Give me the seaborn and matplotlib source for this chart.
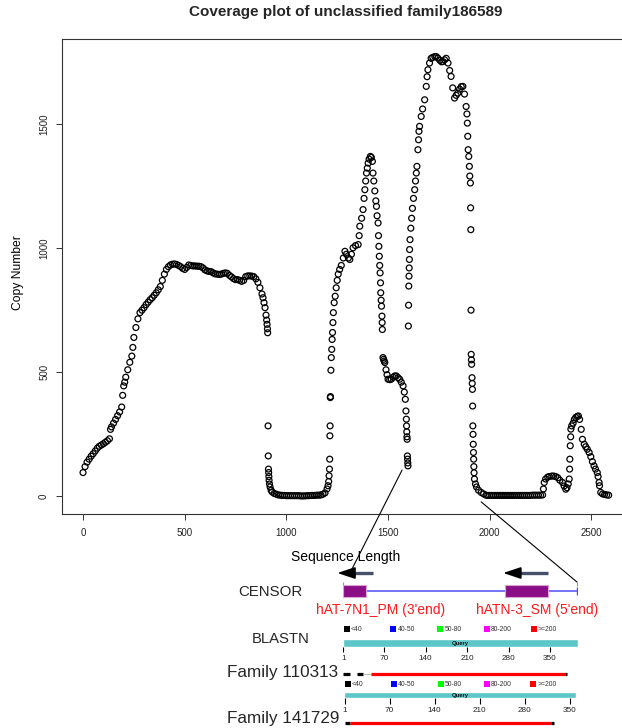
import matplotlib
matplotlib.use("Agg")
import matplotlib.pyplot as plt
import matplotlib.transforms as mtransforms
from matplotlib.patches import ConnectionPatch
import numpy as np
import pandas as pd
import seaborn as sns

# ---------------- coverage data ----------------
position = [
    0, 10, 20, 30, 40, 50, 60, 70, 80, 90, 100, 110, 120, 130,
    135, 140, 150, 160, 170, 180, 190, 195, 200, 205, 210, 220, 230, 240, 245, 250,
    260, 270, 280, 290, 300, 310, 320, 330, 340, 350, 360, 370, 380, 390, 400, 410,
    420, 430, 440, 450, 460, 470, 480, 490, 500, 510, 520, 530, 540, 550, 560, 570,
    580, 590, 600, 610, 620, 630, 640, 650, 660, 670, 680, 690, 700, 710, 720, 730,
    740, 750, 760, 770, 780, 790, 800, 810, 820, 830, 840, 850, 860, 870, 880, 885,
    890, 895, 900, 903, 905, 907, 908,
    910, 911, 912, 913, 914, 915, 917, 920, 925, 930, 940, 950, 960, 970, 980, 990,
    1000, 1010, 1020, 1030, 1040, 1050, 1060, 1070, 1080, 1090, 1100, 1110, 1120,
    1130, 1140, 1150, 1160, 1170, 1180, 1190, 1200, 1205, 1208, 1210, 1212, 1213,
    1214, 1215, 1216, 1217, 1219, 1221, 1223, 1225, 1227, 1229, 1231, 1235, 1240,
    1245, 1250, 1255, 1262, 1270, 1280, 1288, 1295, 1305, 1312, 1320, 1328, 1340,
    1353, 1358, 1361, 1370, 1377, 1382, 1386, 1390, 1394, 1398, 1402, 1407, 1413,
    1418, 1423, 1426, 1430, 1435, 1440, 1443, 1446, 1451, 1453, 1455, 1457, 1459,
    1461, 1463, 1464, 1466, 1468, 1470, 1471, 1472, 1475, 1478, 1481, 1484, 1490,
    1495, 1500, 1508, 1516, 1525, 1533, 1541, 1549, 1557, 1565, 1574, 1580, 1585,
    1588, 1590, 1591, 1592, 1593, 1594, 1595, 1596, 1597, 1598,
    1600, 1601, 1602, 1603, 1604, 1605, 1606, 1608, 1612, 1616, 1620, 1625, 1631,
    1635, 1639, 1642, 1647, 1650, 1652, 1655, 1663, 1670, 1680, 1688, 1692, 1696,
    1704, 1712, 1720, 1730, 1737, 1745, 1755, 1763, 1770, 1778, 1786, 1795, 1803,
    1810, 1818, 1827, 1835, 1843, 1852, 1860, 1868, 1876, 1884, 1888, 1890, 1892,
    1894, 1897, 1900, 1902, 1905, 1906, 1907, 1908, 1909, 1910, 1911, 1913, 1914,
    1915, 1916, 1917, 1918, 1919, 1920, 1921, 1922, 1923, 1925, 1930, 1935, 1945,
    1958, 1970, 1982, 1990, 2000, 2010, 2020, 2030, 2040, 2050, 2060, 2070, 2080,
    2090, 2100, 2110, 2120, 2130, 2140, 2150, 2160, 2170, 2180, 2190, 2200, 2210,
    2220, 2230, 2240, 2250, 2260, 2264, 2268, 2275, 2285, 2293, 2305, 2315, 2325,
    2335, 2345, 2358, 2366, 2374, 2380, 2386, 2391, 2393, 2394, 2396, 2398, 2399,
    2403, 2410, 2416, 2423, 2430, 2436, 2442, 2450, 2456, 2465, 2472, 2480, 2489,
    2497, 2505, 2513, 2520, 2529, 2533, 2538, 2540, 2546, 2555, 2565, 2575, 2585,
]
copy_number = [
    96, 120, 138, 150, 162, 172, 183, 194, 202, 207, 212, 218, 224, 232,
    270, 280, 295, 310, 325, 340, 360, 407, 445, 460, 480, 510, 540, 565, 600, 640,
    680, 715, 740, 750, 760, 772, 782, 792, 800, 810, 820, 832, 845, 870, 895, 914,
    925, 932, 935, 936, 934, 930, 925, 918, 914, 922, 932, 930, 928, 928, 927, 927,
    925, 920, 912, 908, 906, 905, 900, 896, 895, 894, 895, 898, 900, 898, 890, 884,
    877, 873, 873, 870, 866, 870, 885, 888, 888, 887, 885, 876, 862, 840, 815, 800,
    780, 760, 730, 710, 693, 675, 659,
    284, 163, 110, 96, 80, 65, 50, 38, 25, 18, 12, 9, 6, 5, 4, 4,
    3, 3, 3, 3, 3, 3, 3, 2, 2, 2, 3, 3, 4,
    4, 4, 5, 5, 6, 9, 14, 30, 43, 60, 83, 110, 150,
    244, 284, 398, 402, 508, 559, 592, 632, 660, 700, 740, 780, 806,
    840, 870, 895, 914, 930, 960, 987, 975, 960, 954, 975, 1001, 1010,
    1014, 1050, 1088, 1120, 1155, 1200, 1235, 1270, 1302, 1322, 1342, 1358, 1369,
    1365, 1349, 1302, 1270, 1230, 1190, 1168, 1130, 1101, 1050, 1007, 967, 930,
    900, 860, 820, 790, 766, 726, 700, 672, 559, 552, 545, 539, 510,
    490, 472, 470, 472, 480, 485, 485, 478, 472, 460, 445, 420, 391,
    344, 311, 284, 260, 240, 230, 163, 150, 135, 123,
    686, 770, 847, 887, 920, 954, 994, 1034, 1080, 1120, 1160, 1200, 1235,
    1270, 1302, 1329, 1396, 1436, 1470, 1490, 1530, 1560, 1597, 1651, 1690, 1718,
    1745, 1764, 1768, 1771, 1771, 1765, 1756, 1750, 1751, 1758, 1764, 1745, 1715,
    1691, 1645, 1604, 1615, 1624, 1640, 1650, 1651, 1620, 1570, 1540, 1503, 1450,
    1396, 1369, 1329, 1290, 1262, 1162, 1074, 750, 572, 550, 532, 478, 455,
    431, 364, 284, 250, 210, 177, 150, 120, 95, 70, 50, 38, 25,
    16, 10, 5, 4, 4, 4, 4, 4, 4, 4, 4, 4, 4,
    4, 4, 4, 4, 4, 4, 4, 4, 4, 4, 4, 4, 5,
    5, 5, 5, 5, 6, 30, 56, 70, 78, 80, 82, 82, 80,
    75, 65, 56, 42, 29, 35, 50, 70, 110, 150, 204, 240, 271,
    284, 295, 310, 318, 322, 324, 310, 270, 230, 210, 200, 190, 177,
    160, 140, 123, 110, 96, 80, 56, 43, 16, 10, 8, 6, 5,
]
x_ticks = [0, 500, 1000, 1500, 2000, 2500]
y_ticks = [0, 500, 1000, 1500]
title = "Coverage plot of unclassified family186589"

# links from coverage plot to CENSOR track (coverage coords -> query coords)
link_cov_pos = [1569, 1958]
link_cov_val = [106, -22]
link_query_pos = [15.7, 395.6]

# ---------------- annotation data ----------------
query1_len = 396
query2_len = 360
censor_start = [1, 274]
censor_end = [39, 347]
censor_names = ["hAT-7N1_PM (3'end)", "hATN-3_SM (5'end)"]
censor_label_pos = [64.6, 328]
arrow_tail = [51, 347]
arrow_tip = [-9, 271]

score_bins = ["<40", "40-50", "50-80", "80-200", ">=200"]
score_colors = ["#000000", "#0000FF", "#00FF00", "#FF00FF", "#FF0000"]

query1_ticks = [1, 70, 140, 210, 280, 350]
query2_ticks = [1, 70, 140, 210, 280, 350]

hit1_start = [1, 24, 35, 47, 375]
hit1_end = [13, 35, 47, 375, 378]
hit1_bin = ["<40", "<40", "gap", ">=200", "<40"]

hit2_start = [1, 9, 321]
hit2_end = [9, 321, 326]
hit2_bin = ["<40", ">=200", "<40"]

# ---------------- style ----------------
sns.set_theme(style="ticks")
plt.rcParams["font.family"] = ["Liberation Sans", "DejaVu Sans"]

W, H = 622, 728
fig = plt.figure(figsize=(W / 100, H / 100), dpi=100)


def rect(l, t, r, b):
    return [l / W, 1 - b / H, (r - l) / W, (b - t) / H]


def fxy(x, y):
    return x / W, 1 - y / H


# ---------------- main coverage plot ----------------
ax = fig.add_axes(rect(62, 39, 629.7, 514))
df = pd.DataFrame({"Sequence Length": position, "Copy Number": copy_number})
sns.scatterplot(data=df, x="Sequence Length", y="Copy Number", ax=ax,
                marker="o", s=18, linewidth=0.9, legend=False)
pts = ax.collections[0]
pts.set_facecolor("none")
pts.set_edgecolor("black")
pts.set_linewidth(0.9)

ax.set_xlim(-103.4, 2688.4)
ax.set_ylim(-70.8, 1841.8)
ax.set_xticks(x_ticks)
ax.set_yticks(y_ticks)
for sp in ax.spines.values():
    sp.set_visible(True)
    sp.set_linewidth(0.8)
    sp.set_color("#333333")
ax.grid(False)
ax.tick_params(direction="out", length=4.3, width=0.7, color="#333333",
               labelsize=7, labelcolor="#222222")
ax.tick_params(axis="x", pad=6.0)
ax.tick_params(axis="y", pad=5.0)
for t in ax.get_yticklabels():
    t.set_rotation(90)
    t.set_va("center")

ax.set_xlabel("Sequence Length", fontsize=10, color="black")
ax.xaxis.set_label_coords(0.5, (514 - 557) / 475)
ax.xaxis.label.set_va("center")
ax.set_ylabel("Copy Number", fontsize=8.7, color="black")
ax.yaxis.set_label_coords((18 - 62) / 567.7, (514 - 273) / 475)
ax.yaxis.label.set_va("center")
ax.yaxis.label.set_ha("center")

fig.text(*fxy(346, 12), title, ha="center", va="center",
         fontsize=11, fontweight="bold")

# ---------------- CENSOR track ----------------
ax_c = fig.add_axes(rect(343.0, 581, 577.5, 601))
ax_c.set_xlim(0.5, query1_len + 0.5)
ax_c.set_ylim(0, 1)
ax_c.axis("off")
ax_c.hlines(0.5, 1, query1_len, color="#4F4FF5", lw=1.1, zorder=1)
ax_c.vlines(query1_len, 0.32, 0.68, color="#4F4FF5", lw=1.0)
ax_c.vlines([1, query1_len], 0.75, 0.97, color="#33DD33", lw=0.8)
ax_c.barh(0.5, np.array(censor_end) - np.array(censor_start), left=censor_start,
          height=0.6, color="#8C0E86", edgecolor="#D8A2D4", linewidth=0.8, zorder=3)
for s_, e_ in zip(arrow_tail, arrow_tip):
    head = (s_ - e_) * 0.35
    ax_c.plot([s_, e_ + head * 0.6], [1.4, 1.4], color="#44506A", lw=2.4,
              solid_capstyle="butt", clip_on=False)
    ax_c.annotate("", xy=(e_, 1.4), xytext=(e_ + head, 1.4),
                  xycoords="data", textcoords="data",
                  arrowprops=dict(arrowstyle="-|>,head_length=0.9,head_width=0.3",
                                  color="black", lw=1.2, shrinkA=0, shrinkB=0,
                                  mutation_scale=12),
                  annotation_clip=False)
for name, xpos in zip(censor_names, censor_label_pos):
    ax_c.text(xpos, -0.45, name, color="#FF1A1A", fontsize=10,
              ha="center", va="center", clip_on=False)


# ---------------- BLASTN tracks ----------------
def blast_track(box, qlen, xmin, ticks, starts, ends, bins, legend_y, bar_y,
                bar_h, tick_y0, tick_y1, label_y, hit_y, ylim):
    a = fig.add_axes(box)
    a.set_xlim(xmin, qlen + xmin)
    a.set_ylim(ylim, 0)
    a.axis("off")
    blend = mtransforms.blended_transform_factory(a.transAxes, a.transData)
    for i, (lab, col) in enumerate(zip(score_bins, score_colors)):
        fx = i * 0.2
        a.scatter([fx + 0.015], [legend_y], marker="s", s=24, color=col,
                  transform=blend, clip_on=False, linewidths=0)
        a.text(fx + 0.032, legend_y, lab, transform=blend, fontsize=4.9,
               ha="left", va="center", color="#333333")
    a.barh(bar_y, qlen, left=xmin, height=bar_h, color="#5CC6C8")
    a.text(xmin + qlen / 2, bar_y, "Query", fontsize=4.2, fontweight="bold",
           ha="center", va="center", color="#111111")
    a.vlines(ticks, tick_y0, tick_y1, color="black", lw=0.8)
    for t in ticks:
        a.text(t, label_y, str(t), fontsize=5.9, ha="center", va="center",
               color="#222222")
    cmap = dict(zip(score_bins, score_colors))
    for s_, e_, b_ in zip(starts, ends, bins):
        if b_ == "gap":
            a.hlines(hit_y, s_, e_, color="#BBBBBB", lw=0.8)
        else:
            a.hlines(hit_y, s_, e_, color=cmap[b_], lw=2.3)
    return a


ax_b1 = blast_track(rect(343.0, 625, 577.5, 678), query1_len, 0.5, query1_ticks,
                    hit1_start, hit1_end, hit1_bin, legend_y=4.3, bar_y=18,
                    bar_h=8, tick_y0=22, tick_y1=27, label_y=33.5, hit_y=49.3,
                    ylim=53)
ax_b2 = blast_track(rect(344.4, 680, 576.4, 728), query2_len, 0.0, query2_ticks,
                    hit2_start, hit2_end, hit2_bin, legend_y=4, bar_y=15,
                    bar_h=6.5, tick_y0=18, tick_y1=24, label_y=30, hit_y=42.7,
                    ylim=48)

# ---------------- track labels ----------------
fig.text(*fxy(270, 592), "CENSOR", fontsize=10.8, ha="center", va="center")
fig.text(*fxy(281, 639), "BLASTN", fontsize=10.7, ha="center", va="center")
fig.text(*fxy(282.5, 673), "Family 110313", fontsize=12.3, ha="center", va="center")
fig.text(*fxy(283, 719), "Family 141729", fontsize=12.3, ha="center", va="center")

# ---------------- connecting lines ----------------
xb_trans = ax_c.get_xaxis_transform()
link_y_frac = [1.6, 0.95]
for xc, yc, xq, yf in zip(link_cov_pos, link_cov_val, link_query_pos, link_y_frac):
    con = ConnectionPatch(xyA=(xc, yc), coordsA=ax.transData,
                          xyB=(xq, yf), coordsB=xb_trans,
                          color="black", lw=0.8)
    fig.add_artist(con)

fig.savefig("out.png", dpi=100)
